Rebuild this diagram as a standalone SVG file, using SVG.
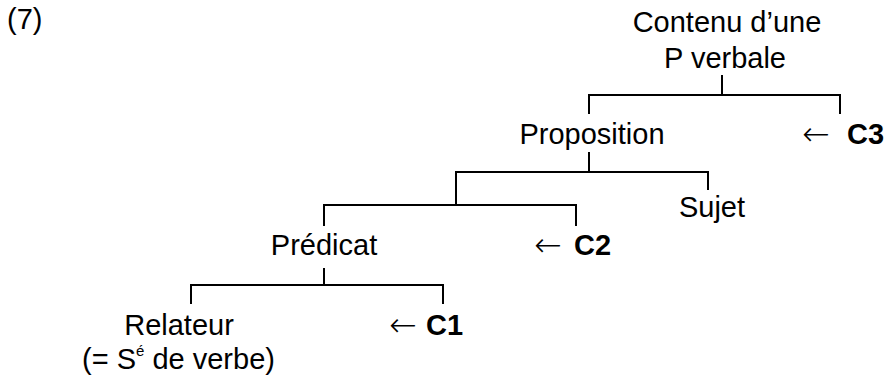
<svg xmlns="http://www.w3.org/2000/svg" width="888" height="379" viewBox="0 0 888 379">
  <style>
    text { font-family: "Liberation Sans", Arial, sans-serif; font-size: 29px; fill: #000; }
    .c { text-anchor: middle; }
    .b { font-weight: bold; }
    .arr { font-family: "DejaVu Sans", sans-serif; font-size: 33px; font-weight: 200; }
    .sup { font-size: 15px; }
    .edge { fill: none; stroke: #000; stroke-width: 2; }
  </style>
  <rect width="888" height="379" fill="#fff"/>

  <text id="label-num" x="7" y="29">(7)</text>

  <!-- tree branches -->
  <g id="connectors">
    <path class="edge" d="M722 75 V95 M589 114 V95 H840 V114"/>
    <path class="edge" d="M589 152 V172 M456 205 V172 H708 V190"/>
    <path class="edge" d="M456 172 V205 M324 226 V205 H576 V226"/>
    <path class="edge" d="M324 268 V285 M191 304 V285 H443 V304"/>
  </g>

  <g id="node-contenu">
    <text class="c" x="727" y="32">Contenu d’une</text>
    <text class="c" x="725" y="68">P verbale</text>
  </g>
  <g id="node-proposition">
    <text class="c" x="592" y="144">Proposition</text>
  </g>
  <g id="node-c3">
    <text class="arr" x="802" y="145">←</text>
    <text class="b" x="847" y="144">C3</text>
  </g>
  <g id="node-sujet">
    <text class="c" x="712" y="217">Sujet</text>
  </g>
  <g id="node-predicat">
    <text class="c" x="324" y="255">Prédicat</text>
  </g>
  <g id="node-c2">
    <text class="arr" x="534" y="256">←</text>
    <text class="b" x="574" y="255">C2</text>
  </g>
  <g id="node-relateur">
    <text class="c" x="179" y="335">Relateur</text>
    <text x="82" y="369">(= S<tspan class="sup" dy="-13">é</tspan><tspan dy="13"> de verbe)</tspan></text>
  </g>
  <g id="node-c1">
    <text class="arr" x="389" y="336">←</text>
    <text class="b" x="426" y="335">C1</text>
  </g>
</svg>
